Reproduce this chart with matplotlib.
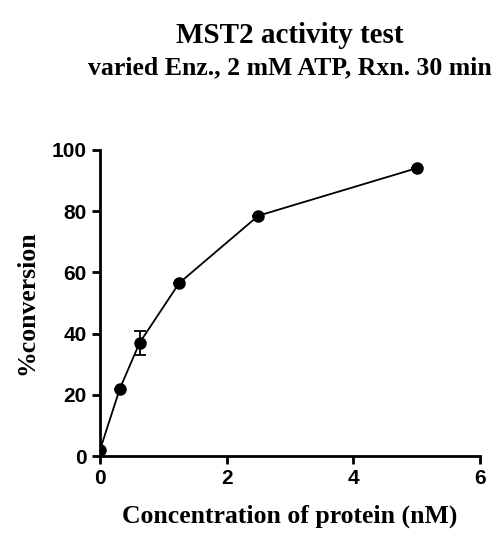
import matplotlib
matplotlib.use("Agg")
import matplotlib.pyplot as plt

conc = [0, 0.3125, 0.625, 1.25, 2.5, 5]
conversion = [2, 22, 37, 56.5, 78.5, 94]
err = [0, 0, 4, 0, 0, 0]
xticks = [0, 2, 4, 6]
yticks = [0, 20, 40, 60, 80, 100]

fig = plt.figure(figsize=(5, 5.57), dpi=100)
ax = fig.add_axes([0.2, 0.181, 0.76, 0.55])
ax.errorbar(conc, conversion, yerr=err, color="black", marker="o", markersize=8,
            linewidth=1.3, capsize=4, elinewidth=1.3, capthick=1.3)
ax.set_xlim(0, 6)
ax.set_ylim(0, 100)
ax.set_xticks(xticks)
ax.set_yticks(yticks)
ax.spines["top"].set_visible(False)
ax.spines["right"].set_visible(False)
for s in ("left", "bottom"):
    ax.spines[s].set_linewidth(2)
ax.tick_params(width=2, length=6, labelsize=15)
for lab in ax.get_xticklabels() + ax.get_yticklabels():
    lab.set_fontfamily("Liberation Sans")
    lab.set_fontweight("bold")
ax.set_xlabel("Concentration of protein (nM)", fontsize=18.5, fontweight="bold",
              family="Liberation Serif", labelpad=12)
ax.set_ylabel("%conversion", fontsize=18.5, fontweight="bold",
              family="Liberation Serif", labelpad=10)
fig.text(0.58, 0.937, "MST2 activity test", ha="center", va="center", fontsize=21,
         fontweight="bold", family="Liberation Serif")
fig.text(0.58, 0.878, "varied Enz., 2 mM ATP, Rxn. 30 min", ha="center", va="center",
         fontsize=18.5, fontweight="bold", family="Liberation Serif")
fig.savefig("out.png", dpi=100)
